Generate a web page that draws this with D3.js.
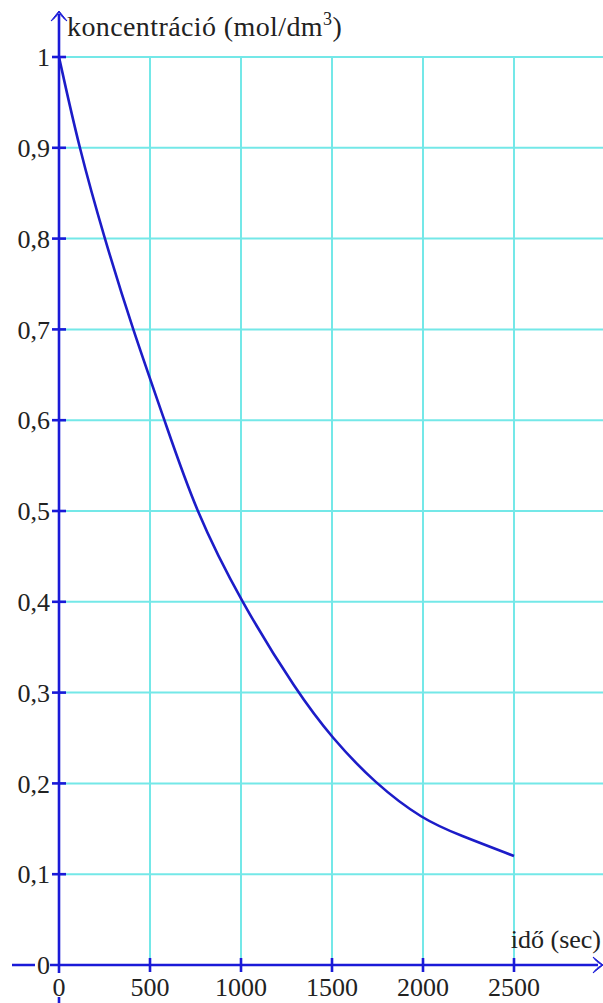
<!DOCTYPE html>
<html lang="hu">
<head>
  <meta charset="UTF-8">
  <title>koncentráció</title>
  <style>
    body { margin: 0; background: #fff; }
  </style>
</head>
<body>
  <div id="chart"></div>
  <script src="https://cdn.jsdelivr.net/npm/d3@7"></script>
  <script>
    // data
    const times = [0, 110, 250, 405, 580, 750, 1000, 1310, 1500, 1736, 2000, 2200, 2500];
    const conc = [1, 0.9, 0.8, 0.7, 0.6, 0.5, 0.4, 0.3, 0.25, 0.2, 0.16, 0.143, 0.12];
    const xTicks = [0, 500, 1000, 1500, 2000, 2500];
    const yTicks = [0.1, 0.2, 0.3, 0.4, 0.5, 0.6, 0.7, 0.8, 0.9, 1];
    const xGrid = [500, 1000, 1500, 2000, 2500, 3000];

    const W = 603, H = 1003;
    const axisColor = '#1a1ad8';
    const gridColor = '#74e8e8';
    const font = '"Liberation Serif", "DejaVu Serif", serif';

    const x = d3.scaleLinear().domain([0, 3000]).range([59, 605]);
    const y = d3.scaleLinear().domain([0, 1]).range([965, 57]);

    const svg = d3.select('#chart').append('svg')
      .attr('width', W).attr('height', H)
      .attr('font-family', font);

    // grid
    svg.append('g').selectAll('line').data(yTicks).join('line')
      .attr('x1', x(0)).attr('x2', W)
      .attr('y1', d => y(d)).attr('y2', d => y(d))
      .attr('stroke', gridColor).attr('stroke-width', 2);
    svg.append('g').selectAll('line').data(xGrid).join('line')
      .attr('x1', d => x(d)).attr('x2', d => x(d))
      .attr('y1', y(1)).attr('y2', y(0))
      .attr('stroke', gridColor).attr('stroke-width', 2);

    // curve
    const line = d3.line()
      .x((d, i) => x(times[i]))
      .y(d => y(d))
      .curve(d3.curveBasis);
    svg.append('path').attr('d', line(conc))
      .attr('fill', 'none').attr('stroke', '#1c1cc8').attr('stroke-width', 2.6);

    // axes
    const ax = svg.append('g').attr('stroke', axisColor).attr('stroke-width', 2.6);
    ax.append('line').attr('x1', 12).attr('x2', 598).attr('y1', y(0)).attr('y2', y(0));
    ax.append('line').attr('x1', x(0)).attr('x2', x(0)).attr('y1', H).attr('y2', 14);
    ax.selectAll('.xt').data(xTicks.slice(1)).join('line')
      .attr('x1', d => x(d)).attr('x2', d => x(d))
      .attr('y1', y(0) - 7).attr('y2', y(0) + 7);
    ax.selectAll('.yt').data(yTicks).join('line')
      .attr('x1', x(0) - 7).attr('x2', x(0) + 7)
      .attr('y1', d => y(d)).attr('y2', d => y(d));

    // arrowheads
    const arrow = 'M0,0 C-2,4 -5,7 -8,9 L0,-1 L8,9 C5,7 2,4 0,0 Z';
    svg.append('path').attr('d', arrow)
      .attr('transform', `translate(${x(0)},12)`)
      .attr('fill', axisColor).attr('stroke', axisColor).attr('stroke-width', 1);
    svg.append('path').attr('d', arrow)
      .attr('transform', `translate(602,${y(0)}) rotate(90)`)
      .attr('fill', axisColor).attr('stroke', axisColor).attr('stroke-width', 1);

    const fmt = d => String(d).replace('.', ',');

    // white patch behind "0" on the x axis
    svg.append('rect').attr('x', 35).attr('y', y(0) - 12).attr('width', 15).attr('height', 24)
      .attr('fill', '#fff');
    // y tick labels
    svg.append('g').selectAll('text').data([0].concat(yTicks)).join('text')
      .attr('x', 50).attr('y', d => y(d)).attr('dy', '0.35em')
      .attr('text-anchor', 'end').attr('font-size', 26).attr('fill', '#222')
      .text(fmt);
    // white patch behind "0" on the y axis
    svg.append('rect').attr('x', x(0) - 8).attr('y', 973).attr('width', 16).attr('height', 24)
      .attr('fill', '#fff');
    // x tick labels
    svg.append('g').selectAll('text').data(xTicks).join('text')
      .attr('x', d => x(d)).attr('y', 996)
      .attr('text-anchor', 'middle').attr('font-size', 26).attr('fill', '#222')
      .text(d => d);

    // axis titles
    const yt = svg.append('text').attr('x', 67).attr('y', 36)
      .attr('font-size', 28).attr('fill', '#222').attr('letter-spacing', 0.4);
    yt.append('tspan').text('koncentráció (mol/dm');
    yt.append('tspan').attr('font-size', 18).attr('dy', -11).text('3');
    yt.append('tspan').attr('dy', 11).text(')');
    svg.append('text').attr('x', 601).attr('y', 948)
      .attr('text-anchor', 'end').attr('font-size', 26).attr('fill', '#222')
      .text('idő (sec)');
  </script>
</body>
</html>
